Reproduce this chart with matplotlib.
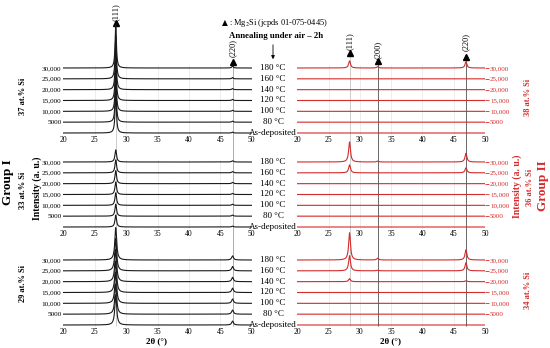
import matplotlib
matplotlib.use("Agg")
import matplotlib.pyplot as plt
import numpy as np

plt.rcParams['font.family'] = ['Liberation Serif', 'DejaVu Sans']
plt.rcParams['mathtext.fontset'] = 'stix'

# --- data ---
two_theta = np.linspace(20, 50, 1501)
peak_pos = [28.35, 32.85, 46.95]           # (111), (200), (220)
offsets = [0, 5000, 10000, 15000, 20000, 25000, 30000]
temps = ["As-deposited", "80 °C", "100 °C", "120 °C", "140 °C", "160 °C", "180 °C"]
offset_labels = ["5000", "10,000", "15,000", "20,000", "25,000", "30,000"]

# peak heights per pattern (rows: As-deposited .. 180 °C ; cols: 111, 200, 220)
h_37 = [[19000, 0, 400], [19000, 0, 500], [19000, 0, 500], [19500, 0, 500],
        [19500, 0, 500], [20000, 0, 600], [20000, 0, 900]]
h_33 = [[5500, 0, 400], [5500, 0, 500], [5800, 0, 500], [5800, 0, 500],
        [6000, 0, 600], [6000, 0, 600], [5600, 0, 600]]
h_29 = [[14000, 0, 1800], [14000, 0, 1900], [14500, 0, 2000], [14500, 0, 2000],
        [15000, 0, 2000], [15000, 0, 2000], [15000, 0, 1900]]
h_38 = [[0, 0, 0], [0, 0, 0], [0, 0, 0], [0, 0, 0],
        [0, 0, 0], [0, 0, 0], [3300, 600, 2800]]
h_36 = [[0, 0, 0], [0, 0, 0], [0, 0, 0], [0, 0, 0],
        [0, 0, 0], [3700, 0, 2300], [9300, 400, 4000]]
h_34 = [[0, 0, 0], [0, 0, 0], [0, 0, 0], [0, 0, 0],
        [1400, 0, 400], [7000, 300, 3700], [12600, 800, 4700]]

W, H = 550, 348
RED = "#d42b2b"
CPP = 461.5   # counts per pixel
LEFT = (63.3, 251.7)
RIGHT = (297.3, 485.0)


def box(x0, y0, x1, y1):
    return [x0 / W, 1 - y1 / H, (x1 - x0) / W, (y1 - y0) / H]


def pattern(h, fwhm):
    y = np.zeros_like(two_theta)
    for pos, hh in zip(peak_pos, h):
        y += hh / (1 + ((two_theta - pos) / (fwhm / 2)) ** 2)
    return y


fig = plt.figure(figsize=(5.5, 3.48), dpi=100)

# reference lines through the three panels of each column
ovl = fig.add_axes(box(LEFT[0], 0, LEFT[1], H))
ovr = fig.add_axes(box(RIGHT[0], 0, RIGHT[1], H))
for ov in (ovl, ovr):
    ov.set_xlim(20, 50)
    ov.set_ylim(H, 0)
    ov.axis('off')
ovl.vlines(peak_pos[0], 24, 326, color='#c4c4c4', lw=0.6)
ovl.vlines(peak_pos[2], 64, 326, color='#a0a0a0', lw=0.6)
ovr.vlines(peak_pos[0], 55, 326, color='#c4c4c4', lw=0.6)
ovr.vlines(peak_pos[1], 63, 326, color='#505050', lw=0.6)
ovr.vlines(peak_pos[2], 59, 326, color='#505050', lw=0.6)

# hkl markers
ovl.plot(peak_pos[0], 23, marker='^', ms=4.5, color='k')
ovl.text(peak_pos[0], 12, "(111)", rotation=90, ha='center', va='center', fontsize=6)
ovl.plot(peak_pos[2], 62, marker='^', ms=4.5, color='k')
ovl.text(peak_pos[2], 48, "(220)", rotation=90, ha='center', va='center', fontsize=6)
ovr.plot(peak_pos[0], 53, marker='^', ms=4.5, color='k')
ovr.text(peak_pos[0], 41, "(111)", rotation=90, ha='center', va='center', fontsize=6)
ovr.plot(peak_pos[1], 61, marker='^', ms=4.5, color='k')
ovr.text(peak_pos[1], 50, "(200)", rotation=90, ha='center', va='center', fontsize=6)
ovr.plot(peak_pos[2], 57, marker='^', ms=4.5, color='k')
ovr.text(peak_pos[2], 42, "(220)", rotation=90, ha='center', va='center', fontsize=6)

panels = [
    (LEFT, 133, h_37, '#1a1a1a', 0.25, 'left'),
    (LEFT, 227, h_33, '#1a1a1a', 0.3, 'left'),
    (LEFT, 325, h_29, '#1a1a1a', 0.35, 'left'),
    (RIGHT, 133, h_38, RED, 0.35, 'right'),
    (RIGHT, 227, h_36, RED, 0.35, 'right'),
    (RIGHT, 325, h_34, RED, 0.35, 'right'),
]

fa = fig.add_axes([0, 0, 1, 1])
fa.set_xlim(0, W)
fa.set_ylim(H, 0)
fa.axis('off')

for (x0, x1), base, heights, col, fwhm, side in panels:
    ax = fig.add_axes(box(x0, base - 130, x1, base + 1.5))
    ax.patch.set_visible(False)
    ax.set_xlim(20, 50)
    ax.set_ylim(-1.5 * CPP, 130 * CPP)
    for s in ax.spines.values():
        s.set_visible(False)
    ax.vlines([25, 30, 35, 40, 45], -900, 31500, color='#e6e6e6', lw=0.5, zorder=0)
    for off, h in zip(offsets, heights):
        ax.plot(two_theta, off + pattern(h, fwhm), color=col, lw=0.8)
    ax.set_xticks(range(20, 51, 5))
    ax.tick_params(axis='x', length=0, pad=0.8, labelsize=5.5)
    ax.set_yticks(offsets[1:])
    ax.set_yticklabels(offset_labels)
    if side == 'left':
        ax.tick_params(axis='y', length=0, pad=1.5, labelsize=5.2)
        for off, t in zip(offsets, temps):
            fa.text(273, base - off / CPP, t, ha='center', va='center', fontsize=6.5)
    else:
        ax.yaxis.tick_right()
        ax.tick_params(axis='y', length=3, width=0.6, color=RED, labelcolor=RED,
                       pad=0.6, labelsize=5)

# headings
fa.text(222, 23, "▲", family='DejaVu Sans', fontsize=5.5, va='center')
fa.text(229, 23, ": Mg$_2$Si (jcpds 01-075-0445)", fontsize=6, va='center')
fa.text(276, 36, "Annealing under air – 2h", fontsize=6.3, fontweight='bold',
        ha='center', va='center')
fa.annotate('', xy=(273, 62), xytext=(273, 42),
            arrowprops=dict(arrowstyle='-|>', color='k', lw=0.6, mutation_scale=5))

# x labels
fa.text(157, 341, "2θ (°)", fontsize=6.5, fontweight='bold', ha='center', va='center')
fa.text(391, 341, "2θ (°)", fontsize=6.5, fontweight='bold', ha='center', va='center')

# side labels
kw = dict(rotation=90, ha='center', va='center', fontweight='bold')
fa.text(23, 96, "37 at.% Si", fontsize=6, **kw)
fa.text(23, 190, "33 at.% Si", fontsize=6, **kw)
fa.text(23, 283, "29 at.% Si", fontsize=6, **kw)
fa.text(37, 188, "Intensity (a. u.)", fontsize=7, **kw)
fa.text(8, 182, "Group I", fontsize=9.5, **kw)
fa.text(528, 97, "38 at.% Si", fontsize=6, color=RED, **kw)
fa.text(530, 187, "36 at.% Si", fontsize=6, color=RED, **kw)
fa.text(528, 290, "34 at.% Si", fontsize=6, color=RED, **kw)
fa.text(517, 186, "Intensity (a. u.)", fontsize=7, color=RED, **kw)
fa.text(543, 186, "Group II", fontsize=9.5, color=RED, **kw)

fig.savefig("out.png", dpi=100)
